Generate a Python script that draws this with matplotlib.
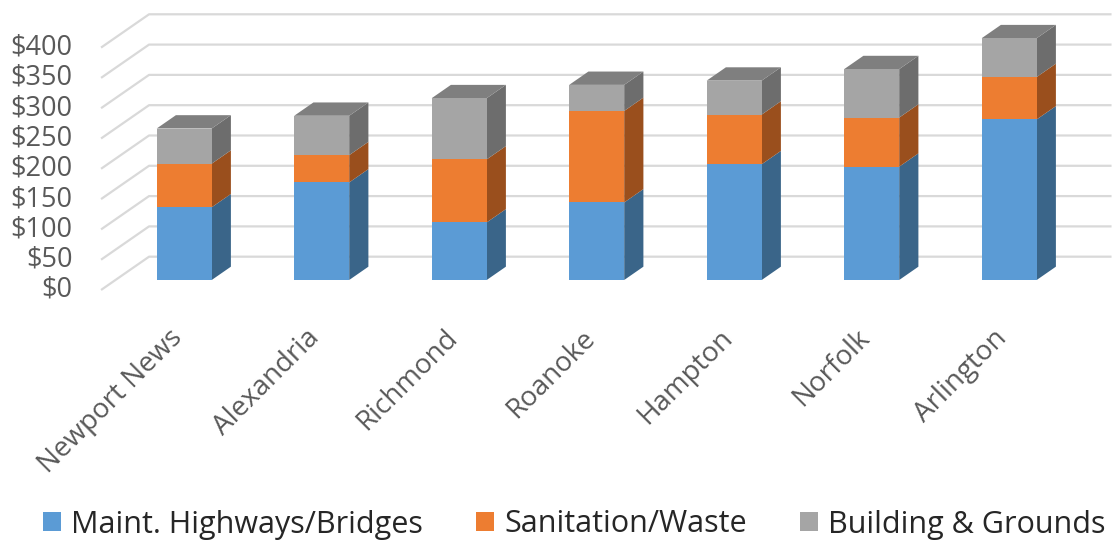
import matplotlib
matplotlib.use("Agg")
import matplotlib.pyplot as plt
from matplotlib.patches import Polygon, Patch

# ---------------- data ----------------
cities = ["Newport News", "Alexandria", "Richmond", "Roanoke", "Hampton", "Norfolk", "Arlington"]
highways = [120, 161, 95, 128, 191, 187, 265]
sanitation = [72, 45, 104, 151, 82, 81, 70]
buildings = [58, 65, 101, 43, 56, 80, 64]
series_names = ["Maint. Highways/Bridges", "Sanitation/Waste", "Building & Grounds"]
y_ticks = [0, 50, 100, 150, 200, 250, 300, 350, 400]
y_tick_labels = ["$0", "$50", "$100", "$150", "$200", "$250", "$300", "$350", "$400"]

# ---------------- style ----------------
front_cols = ["#5B9BD5", "#ED7D31", "#A5A5A5"]
side_cols = ["#3A6589", "#9A4F1D", "#6D6D6D"]
top_cols = ["#4A7FB0", "#C0652A", "#7F7F7F"]
grid_col = "#D9D9D9"
label_col = "#595959"
legend_col = "#262626"
FONT = ["Open Sans", "DejaVu Sans"]

W, H = 1112, 541
fig = plt.figure(figsize=(W / 100, H / 100), dpi=100)
ax = fig.add_axes([0, 0, 1, 1])
ax.axis("off")

# pixel layout -> data limits (bar front plane)
px_per_cat = 137.5
x0_px = 184.2
px_per_usd = 0.606
y0_px = 280.0
ax.set_xlim(-x0_px / px_per_cat, (W - x0_px) / px_per_cat)
ax.set_ylim((y0_px - H) / px_per_usd, y0_px / px_per_usd)

# 3D depth vector (full floor depth) in data units
ddx = 48.0 / px_per_cat
ddy = 33.3 / px_per_usd
f_front, f_back = 0.3, 0.7   # bar occupies this depth range
bar_w = 0.4
n = len(cities)

# ---------------- walls / gridlines ----------------
xl, xr = -0.5, n - 0.5
for v in y_ticks:
    xs = [xl - f_front * ddx, xl + (1 - f_front) * ddx, xr + (1 - f_front) * ddx]
    ys = [v - f_front * ddy, v + (1 - f_front) * ddy, v + (1 - f_front) * ddy]
    ax.plot(xs, ys, color=grid_col, lw=1.6, solid_capstyle="butt", zorder=1)

for v, lab in zip(y_ticks, y_tick_labels):
    ax.text(xl - f_front * ddx - 28.5 / px_per_cat, v - f_front * ddy, lab,
            ha="right", va="center", fontsize=19.5, color=label_col, family=FONT)

# ---------------- bars ----------------
bdx = (f_back - f_front) * ddx
bdy = (f_back - f_front) * ddy
series = [highways, sanitation, buildings]
for i in range(n):
    bottom = 0
    for s, vals in enumerate(series):
        v = vals[i]
        left = i - bar_w / 2
        right = i + bar_w / 2
        top = bottom + v
        # side face
        ax.add_patch(Polygon([(right, bottom), (right + bdx, bottom + bdy),
                              (right + bdx, top + bdy), (right, top)],
                             closed=True, facecolor=side_cols[s], edgecolor="none", zorder=3))
        # front face
        ax.bar(i, v, bottom=bottom, width=bar_w, color=front_cols[s], edgecolor="none", zorder=4)
        # top face (only visible on topmost segment)
        if s == len(series) - 1:
            ax.add_patch(Polygon([(left, top), (right, top), (right + bdx, top + bdy),
                                  (left + bdx, top + bdy)],
                                 closed=True, facecolor=top_cols[s], edgecolor="none", zorder=3))
        bottom = top

# ---------------- category labels ----------------
for i, c in enumerate(cities):
    ax.text(i - 1.0 / px_per_cat, -59 / px_per_usd, c, rotation=45, rotation_mode="anchor",
            ha="right", va="baseline", fontsize=20, color=label_col, family=FONT)

# ---------------- legend ----------------
handles = [Patch(facecolor=front_cols[k], edgecolor="none", label=series_names[k]) for k in range(3)]
leg = fig.legend(handles=handles, loc="center", bbox_to_anchor=(574.5 / W, 1 - 524.5 / H),
                 ncol=3, frameon=False, fontsize=22, handlelength=0.58, handleheight=0.58,
                 handletextpad=0.33, columnspacing=1.75, borderpad=0, borderaxespad=0)
for t in leg.get_texts():
    t.set_color(legend_col)
    t.set_family(FONT)

fig.savefig("out.png", dpi=100)
